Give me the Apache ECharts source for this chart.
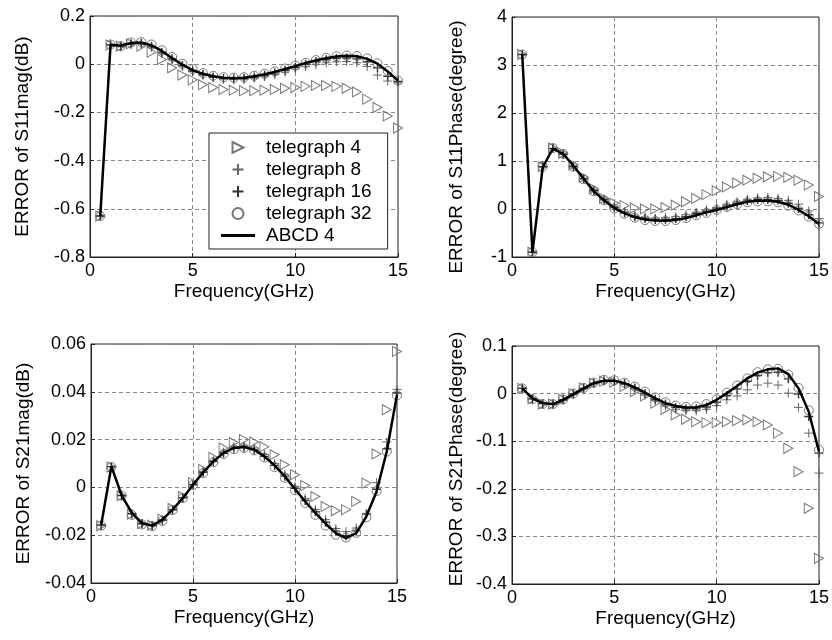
<!DOCTYPE html>
<html>
<head>
<meta charset="utf-8">
<script src="https://cdn.jsdelivr.net/npm/echarts@6/dist/echarts.min.js"></script>
<style>
  html, body { margin: 0; padding: 0; background: #fff; }
  #main { width: 832px; height: 640px; }
</style>
</head>
<body>
<div id="main"></div>
<script>
// 频率点 (GHz)
var freq = [0.5, 1, 1.5, 2, 2.5, 3, 3.5, 4, 4.5, 5, 5.5, 6, 6.5, 7, 7.5, 8, 8.5, 9, 9.5, 10,
            10.5, 11, 11.5, 12, 12.5, 13, 13.5, 14, 14.5, 15];

var seriesNames = ['telegraph 4', 'telegraph 8', 'telegraph 16', 'telegraph 32', 'ABCD 4'];

// S11 mag (dB)
var s11mag_t4  = [-0.63, 0.08, 0.075, 0.085, 0.075, 0.05, 0.02, -0.015, -0.045, -0.065, -0.085, -0.097, -0.105, -0.108, -0.11,
                  -0.11, -0.108, -0.105, -0.1, -0.097, -0.092, -0.088, -0.088, -0.092, -0.1, -0.115, -0.145, -0.18, -0.215, -0.265];
var s11mag_t8  = [-0.63, 0.08, 0.072, 0.082, 0.083, 0.07, 0.045, 0.018, -0.008, -0.03, -0.045, -0.055, -0.062, -0.064, -0.063,
                  -0.058, -0.052, -0.043, -0.033, -0.02, -0.01, -0.002, 0.006, 0.01, 0.011, 0.006, -0.01, -0.045, -0.07, -0.078];
var s11mag_t16 = [-0.63, 0.08, 0.075, 0.085, 0.087, 0.075, 0.05, 0.022, -0.005, -0.028, -0.043, -0.053, -0.059, -0.06, -0.058,
                  -0.053, -0.046, -0.036, -0.025, -0.013, 0.0, 0.01, 0.018, 0.024, 0.026, 0.022, 0.01, -0.015, -0.05, -0.072];
var s11mag_t32 = [-0.63, 0.082, 0.075, 0.09, 0.092, 0.082, 0.058, 0.03, 0.002, -0.02, -0.037, -0.048, -0.054, -0.056, -0.054,
                  -0.048, -0.04, -0.03, -0.018, -0.006, 0.006, 0.017, 0.026, 0.033, 0.036, 0.034, 0.024, 0.004, -0.028, -0.068];
var s11mag_abcd = [-0.63, 0.08, 0.078, 0.088, 0.09, 0.078, 0.055, 0.025, -0.002, -0.025, -0.04, -0.05, -0.056, -0.058, -0.056,
                   -0.05, -0.042, -0.032, -0.02, -0.008, 0.005, 0.016, 0.025, 0.032, 0.035, 0.033, 0.022, 0.002, -0.03, -0.068];

// S11 phase (degree)
var s11ph_t4  = [3.22, -0.9, 0.88, 1.27, 1.16, 0.92, 0.66, 0.42, 0.22, 0.12, 0.07, 0.02, 0.0, 0.0, 0.03,
                 0.08, 0.15, 0.22, 0.3, 0.38, 0.46, 0.54, 0.6, 0.64, 0.67, 0.68, 0.66, 0.6, 0.5, 0.26];
var s11ph_t8  = [3.22, -0.9, 0.88, 1.26, 1.14, 0.9, 0.64, 0.4, 0.21, 0.05, -0.06, -0.13, -0.17, -0.19, -0.18,
                 -0.16, -0.12, -0.07, -0.02, 0.03, 0.09, 0.15, 0.2, 0.23, 0.24, 0.22, 0.18, 0.1, -0.04, -0.2];
var s11ph_t16 = [3.22, -0.9, 0.88, 1.26, 1.14, 0.88, 0.63, 0.38, 0.19, 0.03, -0.08, -0.16, -0.2, -0.22, -0.22,
                 -0.2, -0.16, -0.1, -0.05, 0.0, 0.06, 0.12, 0.17, 0.2, 0.2, 0.18, 0.12, 0.01, -0.12, -0.29];
var s11ph_t32 = [3.22, -0.9, 0.88, 1.27, 1.15, 0.88, 0.62, 0.37, 0.18, 0.01, -0.1, -0.18, -0.23, -0.25, -0.25,
                 -0.23, -0.19, -0.13, -0.08, -0.02, 0.04, 0.1, 0.14, 0.16, 0.16, 0.14, 0.07, -0.03, -0.16, -0.31];
var s11ph_abcd = [3.22, -0.9, 0.87, 1.26, 1.15, 0.9, 0.63, 0.37, 0.18, 0.02, -0.09, -0.17, -0.22, -0.24, -0.245,
                  -0.23, -0.19, -0.13, -0.07, -0.02, 0.04, 0.1, 0.15, 0.17, 0.17, 0.15, 0.09, -0.02, -0.15, -0.31];

// S21 mag (dB)
var s21mag_t4  = [-0.016, 0.0085, -0.0035, -0.0112, -0.0152, -0.0158, -0.0133, -0.0088, -0.0038, 0.002, 0.0075, 0.0125, 0.0165, 0.0188, 0.02,
                  0.019, 0.017, 0.0137, 0.0095, 0.0053, 0.0008, -0.0038, -0.008, -0.0098, -0.0093, -0.0059, 0.0018, 0.014, 0.0325, 0.0569];
var s21mag_t8  = [-0.0158, 0.0087, -0.0034, -0.011, -0.015, -0.0158, -0.0135, -0.0092, -0.0042, 0.0013, 0.0066, 0.0112, 0.0148, 0.017, 0.0175,
                  0.0165, 0.0138, 0.01, 0.0055, 0.0004, -0.0046, -0.0092, -0.0135, -0.0172, -0.0185, -0.017, -0.011, 0.002, 0.019, 0.041];
var s21mag_t16 = [-0.0158, 0.0087, -0.0034, -0.011, -0.0152, -0.016, -0.0137, -0.0094, -0.0044, 0.0011, 0.0063, 0.0108, 0.0143, 0.0164, 0.0168,
                  0.0157, 0.013, 0.0092, 0.0047, -0.0004, -0.0055, -0.0102, -0.0146, -0.0183, -0.0202, -0.0182, -0.0112, -0.0008, 0.0162, 0.0395];
var s21mag_t32 = [-0.016, 0.0085, -0.0035, -0.0115, -0.0155, -0.0162, -0.014, -0.0095, -0.0045, 0.001, 0.006, 0.0105, 0.014, 0.016, 0.0165,
                  0.0155, 0.0125, 0.0085, 0.004, -0.0012, -0.0065, -0.0115, -0.016, -0.0198, -0.021, -0.019, -0.0125, -0.0015, 0.015, 0.0385];
var s21mag_abcd = [-0.0156, 0.0088, -0.0033, -0.0107, -0.015, -0.016, -0.0135, -0.0093, -0.0045, 0.0011, 0.0063, 0.0109, 0.0144, 0.0165, 0.0169,
                   0.0158, 0.013, 0.0092, 0.0046, -0.0007, -0.0059, -0.0107, -0.0152, -0.0191, -0.0212, -0.0191, -0.0121, -0.0017, 0.0151, 0.0388];

// S21 phase (degree)
var s21ph_t4  = [0.011, -0.011, -0.022, -0.022, -0.012, 0.0, 0.012, 0.022, 0.026, 0.024, 0.015, 0.004, -0.005, -0.02, -0.033,
                 -0.045, -0.054, -0.059, -0.061, -0.061, -0.059, -0.057, -0.055, -0.059, -0.066, -0.083, -0.115, -0.164, -0.241, -0.346];
var s21ph_t8  = [0.011, -0.011, -0.021, -0.022, -0.013, -0.001, 0.011, 0.021, 0.026, 0.025, 0.019, 0.01, -0.003, -0.015, -0.026,
                 -0.033, -0.036, -0.036, -0.033, -0.025, -0.013, -0.005, 0.008, 0.018, 0.022, 0.018, 0.001, -0.029, -0.083, -0.167];
var s21ph_t16 = [0.011, -0.011, -0.021, -0.022, -0.013, -0.001, 0.011, 0.022, 0.027, 0.026, 0.021, 0.012, 0.0, -0.012, -0.022,
                 -0.029, -0.032, -0.032, -0.028, -0.018, -0.004, 0.01, 0.026, 0.038, 0.044, 0.045, 0.031, -0.001, -0.048, -0.125];
var s21ph_t32 = [0.011, -0.012, -0.022, -0.022, -0.012, 0.0, 0.012, 0.023, 0.029, 0.028, 0.023, 0.015, 0.004, -0.008, -0.018,
                 -0.025, -0.028, -0.027, -0.022, -0.012, 0.002, 0.017, 0.032, 0.045, 0.051, 0.052, 0.04, 0.012, -0.035, -0.118];
var s21ph_abcd = [0.011, -0.01, -0.02, -0.022, -0.013, -0.001, 0.011, 0.022, 0.027, 0.027, 0.022, 0.013, 0.002, -0.01, -0.02,
                  -0.026, -0.029, -0.029, -0.024, -0.013, 0.001, 0.016, 0.032, 0.044, 0.051, 0.053, 0.041, 0.011, -0.038, -0.122];

// 每个子图的纵轴
var yNames = ['ERROR of S11mag(dB)', 'ERROR of S11Phase(degree)', 'ERROR of S21mag(dB)', 'ERROR of S21Phase(degree)'];
var yMin = [-0.8, -1, -0.04, -0.4];
var yMax = [0.2, 4, 0.06, 0.1];
var yStep = [0.2, 1, 0.02, 0.1];

var panels = [
    [s11mag_t4, s11mag_t8, s11mag_t16, s11mag_t32, s11mag_abcd],
    [s11ph_t4, s11ph_t8, s11ph_t16, s11ph_t32, s11ph_abcd],
    [s21mag_t4, s21mag_t8, s21mag_t16, s21mag_t32, s21mag_abcd],
    [s21ph_t4, s21ph_t8, s21ph_t16, s21ph_t32, s21ph_abcd]
];

var font = 'Liberation Sans, Arial, Helvetica, sans-serif';
var triPath = 'path://M0,0L10,5L0,10Z';
var plusPath = 'path://M5,0L5,10M0,5L10,5';

function pairs (ys) {
    var out = [];
    for (var i = 0; i < freq.length; i++) {
        out.push([freq[i], ys[i]]);
    }
    return out;
}

var myChart = echarts.init(document.getElementById('main'));

var grids = [
    {left: 90, top: 16, width: 308, height: 241},
    {left: 512, top: 17, width: 309, height: 240},
    {left: 91, top: 344, width: 306, height: 239},
    {left: 512, top: 346, width: 308, height: 238}
];
var yGaps = [58, 46, 58, 46];
// 纵轴标题沿轴方向的微调 (padding, 旋转后左=上, 右=下)
var yNamePad = [[0, 0, 0, 0], [0, 20, 0, 0], [0, 0, 0, 0], [0, 0, 0, 12]];

var xAxes = [], yAxes = [], series = [];
for (var g = 0; g < 4; g++) {
    grids[g].show = true;
    grids[g].borderColor = '#222';
    grids[g].borderWidth = 1;
    grids[g].containLabel = false;

    xAxes.push({
        type: 'value',
        gridIndex: g,
        min: 0,
        max: 15,
        interval: 5,
        name: 'Frequency(GHz)',
        nameLocation: 'middle',
        nameGap: 25,
        nameTextStyle: {color: '#000', fontSize: 19, fontFamily: font},
        axisLine: {show: true, onZero: false, lineStyle: {color: '#222', width: 1}},
        axisTick: {show: true, inside: true, length: 4, lineStyle: {color: '#222'}},
        axisLabel: {color: '#000', fontSize: 18, fontFamily: font, margin: 5},
        splitLine: {show: true, lineStyle: {color: '#888', type: [4, 3], width: 1}}
    });
    yAxes.push({
        type: 'value',
        gridIndex: g,
        min: yMin[g],
        max: yMax[g],
        interval: yStep[g],
        name: yNames[g],
        nameLocation: 'middle',
        nameGap: yGaps[g],
        nameTextStyle: {color: '#000', fontSize: 19, fontFamily: font, padding: yNamePad[g]},
        axisLine: {show: true, onZero: false, lineStyle: {color: '#222', width: 1}},
        axisTick: {show: true, inside: true, length: 4, lineStyle: {color: '#222'}},
        axisLabel: {
            color: '#000', fontSize: 18, fontFamily: font, margin: 5,
            formatter: function (v) { return String(+v.toFixed(4)); }
        },
        splitLine: {show: true, lineStyle: {color: '#888', type: [4, 3], width: 1}}
    });

    var d = panels[g];
    // telegraph 4 三角
    series.push({
        name: seriesNames[0], type: 'scatter', xAxisIndex: g, yAxisIndex: g,
        symbol: triPath, symbolSize: [9, 10],
        itemStyle: {color: 'rgba(0,0,0,0)', borderColor: '#777', borderWidth: 1, opacity: 1},
        data: pairs(d[0]), silent: true
    });
    // telegraph 8 加号
    series.push({
        name: seriesNames[1], type: 'scatter', xAxisIndex: g, yAxisIndex: g,
        symbol: plusPath, symbolSize: 9,
        itemStyle: {color: 'rgba(0,0,0,0)', borderColor: '#666', borderWidth: 1, opacity: 1},
        data: pairs(d[1]), silent: true
    });
    // telegraph 16 深色加号
    series.push({
        name: seriesNames[2], type: 'scatter', xAxisIndex: g, yAxisIndex: g,
        symbol: plusPath, symbolSize: 9,
        itemStyle: {color: 'rgba(0,0,0,0)', borderColor: '#333', borderWidth: 1.4, opacity: 1},
        data: pairs(d[2]), silent: true
    });
    // telegraph 32 圆圈
    series.push({
        name: seriesNames[3], type: 'scatter', xAxisIndex: g, yAxisIndex: g,
        symbol: 'circle', symbolSize: 9,
        itemStyle: {color: 'rgba(0,0,0,0)', borderColor: '#777', borderWidth: 1, opacity: 1},
        data: pairs(d[3]), silent: true
    });
    // ABCD 4 实线
    series.push({
        name: seriesNames[4], type: 'line', xAxisIndex: g, yAxisIndex: g,
        symbol: 'none', showSymbol: false,
        lineStyle: {color: '#000', width: 2.5},
        itemStyle: {color: '#000'},
        data: pairs(d[4]), silent: true
    });
}

var option = {
    animation: false,
    backgroundColor: '#fff',
    textStyle: {fontFamily: font},
    legend: {
        left: 209,
        top: 133,
        orient: 'vertical',
        align: 'left',
        backgroundColor: '#fff',
        borderColor: '#222',
        borderWidth: 1,
        padding: [5, 16, 4, 12],
        itemWidth: 34,
        itemHeight: 11,
        itemGap: 3,
        textStyle: {color: '#000', fontSize: 19, fontFamily: font, padding: [0, 0, 0, 6]},
        data: [
            seriesNames[0], seriesNames[1], seriesNames[2], seriesNames[3],
            {name: seriesNames[4], icon: 'path://M0,0L34,0L34,3L0,3Z'}
        ]
    },
    grid: grids,
    xAxis: xAxes,
    yAxis: yAxes,
    series: series
};
myChart.setOption(option);
</script>
</body>
</html>
